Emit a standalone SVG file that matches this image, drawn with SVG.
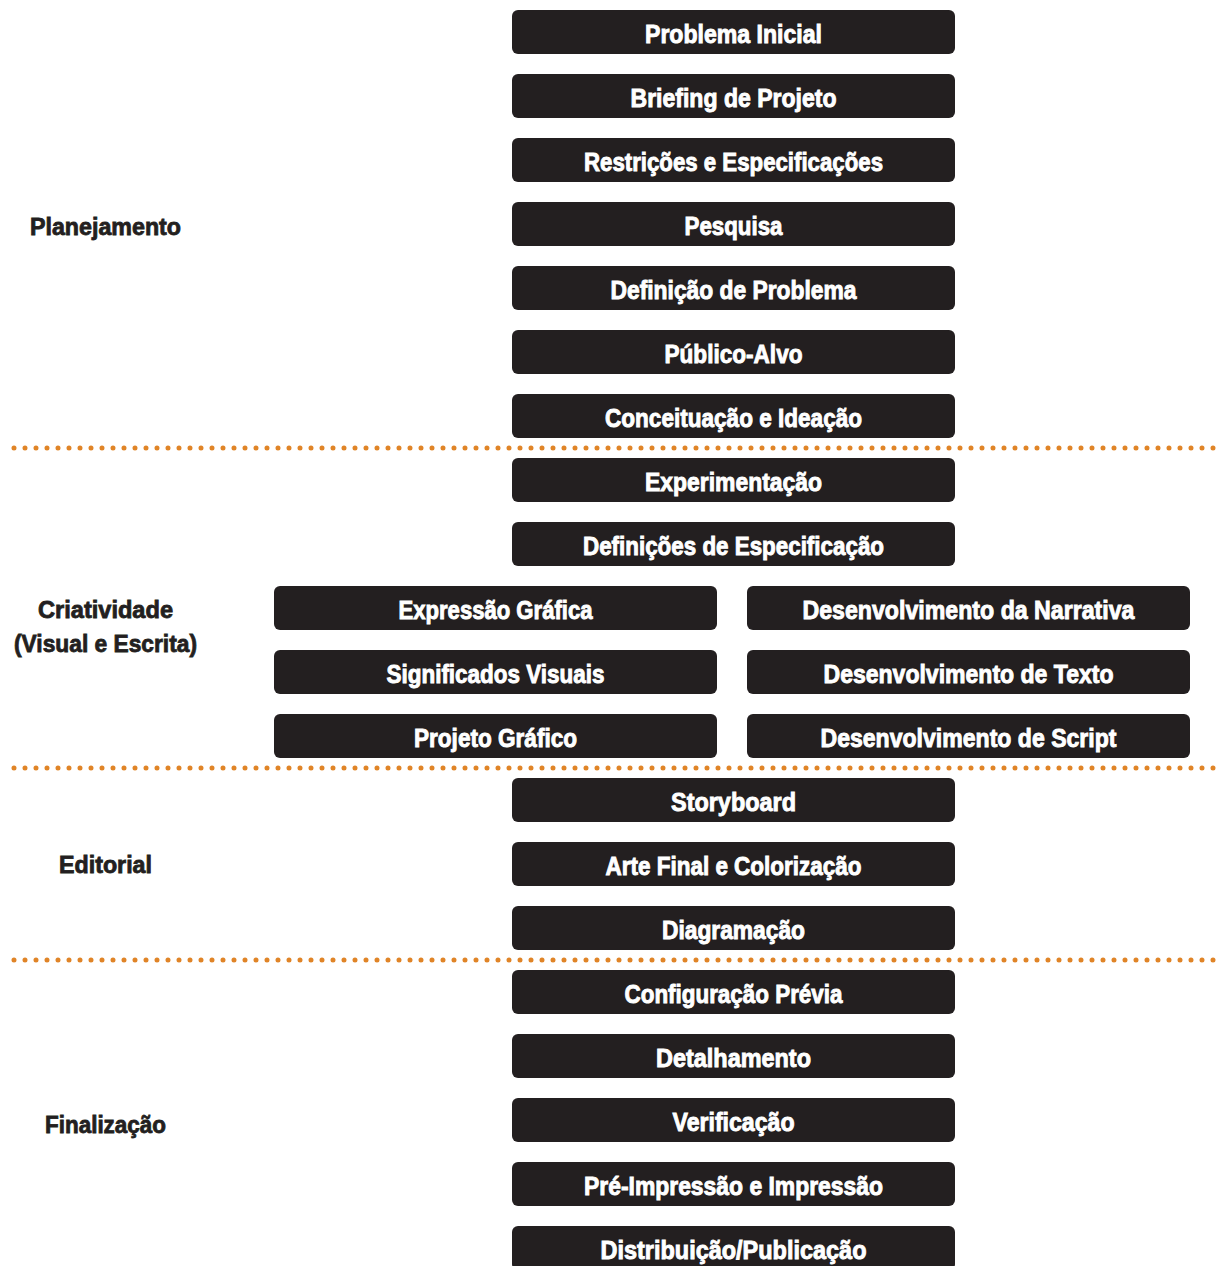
<svg xmlns="http://www.w3.org/2000/svg" width="1222" height="1266" viewBox="0 0 1222 1266">
<style>
.box{fill:#231f20;}
.bt{fill:#ffffff;stroke:#ffffff;stroke-width:0.9;font-family:"Liberation Sans",Arial,sans-serif;font-weight:700;font-size:25px;text-anchor:middle;}
.lb{fill:#231f20;stroke:#231f20;stroke-width:0.8;font-family:"Liberation Sans",Arial,sans-serif;font-weight:700;font-size:23px;text-anchor:middle;}
.sep{stroke:#e08427;stroke-width:5;stroke-dasharray:0 11;stroke-linecap:round;fill:none;}
</style>
<rect width="1222" height="1266" fill="#ffffff"/>
<g id="separators">
<line class="sep" x1="14" y1="448" x2="1222" y2="448"/>
<line class="sep" x1="14" y1="768" x2="1222" y2="768"/>
<line class="sep" x1="14" y1="960" x2="1222" y2="960"/>
</g>
<g id="phase-labels">
<text class="lb" x="105.5" y="235" textLength="151" lengthAdjust="spacingAndGlyphs">Planejamento</text>
<text class="lb" x="105.5" y="618" textLength="135" lengthAdjust="spacingAndGlyphs">Criatividade</text>
<text class="lb" x="105.5" y="652" textLength="183" lengthAdjust="spacingAndGlyphs">(Visual e Escrita)</text>
<text class="lb" x="105.5" y="873" textLength="93" lengthAdjust="spacingAndGlyphs">Editorial</text>
<text class="lb" x="105.5" y="1133" textLength="121" lengthAdjust="spacingAndGlyphs">Finalização</text>
</g>
<g id="n1"><rect class="box" x="512" y="10" width="443" height="44" rx="6"/><text class="bt" x="733.5" y="43" textLength="177" lengthAdjust="spacingAndGlyphs">Problema Inicial</text></g>
<g id="n2"><rect class="box" x="512" y="74" width="443" height="44" rx="6"/><text class="bt" x="733.5" y="107" textLength="206" lengthAdjust="spacingAndGlyphs">Briefing de Projeto</text></g>
<g id="n3"><rect class="box" x="512" y="138" width="443" height="44" rx="6"/><text class="bt" x="733.5" y="171" textLength="299" lengthAdjust="spacingAndGlyphs">Restrições e Especificações</text></g>
<g id="n4"><rect class="box" x="512" y="202" width="443" height="44" rx="6"/><text class="bt" x="733.5" y="235" textLength="98" lengthAdjust="spacingAndGlyphs">Pesquisa</text></g>
<g id="n5"><rect class="box" x="512" y="266" width="443" height="44" rx="6"/><text class="bt" x="733.5" y="299" textLength="246" lengthAdjust="spacingAndGlyphs">Definição de Problema</text></g>
<g id="n6"><rect class="box" x="512" y="330" width="443" height="44" rx="6"/><text class="bt" x="733.5" y="363" textLength="138" lengthAdjust="spacingAndGlyphs">Público-Alvo</text></g>
<g id="n7"><rect class="box" x="512" y="394" width="443" height="44" rx="6"/><text class="bt" x="733.5" y="427" textLength="257" lengthAdjust="spacingAndGlyphs">Conceituação e Ideação</text></g>
<g id="n8"><rect class="box" x="512" y="458" width="443" height="44" rx="6"/><text class="bt" x="733.5" y="491" textLength="177" lengthAdjust="spacingAndGlyphs">Experimentação</text></g>
<g id="n9"><rect class="box" x="512" y="522" width="443" height="44" rx="6"/><text class="bt" x="733.5" y="555" textLength="301" lengthAdjust="spacingAndGlyphs">Definições de Especificação</text></g>
<g id="n10"><rect class="box" x="274" y="586" width="443" height="44" rx="6"/><text class="bt" x="495.5" y="619" textLength="194" lengthAdjust="spacingAndGlyphs">Expressão Gráfica</text></g>
<g id="n11"><rect class="box" x="747" y="586" width="443" height="44" rx="6"/><text class="bt" x="968.5" y="619" textLength="332" lengthAdjust="spacingAndGlyphs">Desenvolvimento da Narrativa</text></g>
<g id="n12"><rect class="box" x="274" y="650" width="443" height="44" rx="6"/><text class="bt" x="495.5" y="683" textLength="218" lengthAdjust="spacingAndGlyphs">Significados Visuais</text></g>
<g id="n13"><rect class="box" x="747" y="650" width="443" height="44" rx="6"/><text class="bt" x="968.5" y="683" textLength="290" lengthAdjust="spacingAndGlyphs">Desenvolvimento de Texto</text></g>
<g id="n14"><rect class="box" x="274" y="714" width="443" height="44" rx="6"/><text class="bt" x="495.5" y="747" textLength="163" lengthAdjust="spacingAndGlyphs">Projeto Gráfico</text></g>
<g id="n15"><rect class="box" x="747" y="714" width="443" height="44" rx="6"/><text class="bt" x="968.5" y="747" textLength="296" lengthAdjust="spacingAndGlyphs">Desenvolvimento de Script</text></g>
<g id="n16"><rect class="box" x="512" y="778" width="443" height="44" rx="6"/><text class="bt" x="733.5" y="811" textLength="125" lengthAdjust="spacingAndGlyphs">Storyboard</text></g>
<g id="n17"><rect class="box" x="512" y="842" width="443" height="44" rx="6"/><text class="bt" x="733.5" y="875" textLength="256" lengthAdjust="spacingAndGlyphs">Arte Final e Colorização</text></g>
<g id="n18"><rect class="box" x="512" y="906" width="443" height="44" rx="6"/><text class="bt" x="733.5" y="939" textLength="143" lengthAdjust="spacingAndGlyphs">Diagramação</text></g>
<g id="n19"><rect class="box" x="512" y="970" width="443" height="44" rx="6"/><text class="bt" x="733.5" y="1003" textLength="218" lengthAdjust="spacingAndGlyphs">Configuração Prévia</text></g>
<g id="n20"><rect class="box" x="512" y="1034" width="443" height="44" rx="6"/><text class="bt" x="733.5" y="1067" textLength="155" lengthAdjust="spacingAndGlyphs">Detalhamento</text></g>
<g id="n21"><rect class="box" x="512" y="1098" width="443" height="44" rx="6"/><text class="bt" x="733.5" y="1131" textLength="122" lengthAdjust="spacingAndGlyphs">Verificação</text></g>
<g id="n22"><rect class="box" x="512" y="1162" width="443" height="44" rx="6"/><text class="bt" x="733.5" y="1195" textLength="299" lengthAdjust="spacingAndGlyphs">Pré-Impressão e Impressão</text></g>
<g id="n23"><rect class="box" x="512" y="1226" width="443" height="44" rx="6"/><text class="bt" x="733.5" y="1259" textLength="266" lengthAdjust="spacingAndGlyphs">Distribuição/Publicação</text></g>
<g id="connectors"></g>
</svg>
